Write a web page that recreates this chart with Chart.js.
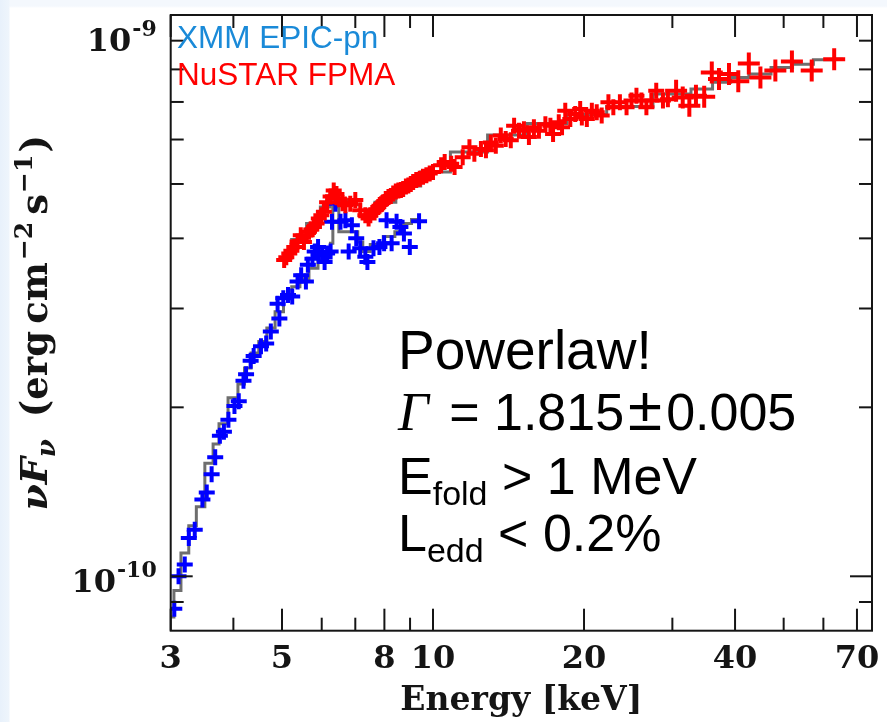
<!DOCTYPE html>
<html>
<head>
<meta charset="utf-8">
<script src="https://cdn.jsdelivr.net/npm/chart.js@4.4.1/dist/chart.umd.min.js"></script>
<style>
  html, body { margin: 0; padding: 0; background: #fff; }
  #wrap {
    width: 887px; height: 722px;
    background:
      linear-gradient(to right, #e8f1fb 0, #eef5fc 9px, rgba(255,255,255,0) 10px),
      linear-gradient(to bottom, #f4f8fd 0, #f4f8fd 6px, #fff 8px);
  }
</style>
</head>
<body>
<div id="wrap"><canvas id="spec" width="887" height="722"></canvas></div>
<script>
// energies in keV, flux (nu F_nu) in units of 1e-10 erg cm^-2 s^-1
const xmmEnergy = [3.05, 3.11, 3.20, 3.26, 3.35, 3.47, 3.54, 3.62, 3.68, 3.76, 3.83, 3.91, 4.02, 4.10, 4.19, 4.24, 4.33, 4.39, 4.54, 4.65, 4.75, 4.90, 4.94, 5.03, 5.14, 5.24, 5.37, 5.46, 5.58, 5.63, 5.75, 5.81, 5.90, 6.01, 6.08, 6.15, 6.25, 6.29, 6.39, 6.54, 6.69, 6.79, 6.89, 7.03, 7.16, 7.33, 7.40, 7.61, 7.82, 7.99, 8.08, 8.27, 8.46, 8.61, 8.75, 8.99, 9.38];
const xmmFlux = [0.875, 1.00, 1.05, 1.17, 1.21, 1.37, 1.41, 1.52, 1.63, 1.78, 1.81, 1.90, 2.01, 2.05, 2.23, 2.29, 2.42, 2.47, 2.57, 2.60, 2.73, 3.06, 2.88, 3.13, 3.17, 3.15, 3.35, 3.44, 3.35, 3.59, 3.68, 3.79, 3.86, 3.73, 3.63, 3.76, 3.79, 4.28, 4.61, 4.28, 4.31, 3.79, 4.22, 4.00, 3.84, 3.71, 3.63, 3.84, 3.86, 3.92, 4.31, 3.92, 4.28, 4.19, 4.08, 3.86, 4.29];

const nustarEnergy = [5.05, 5.10, 5.17, 5.22, 5.29, 5.37, 5.45, 5.53, 5.60, 5.66, 5.72, 5.79, 5.86, 5.92, 5.99, 6.06, 6.15, 6.25, 6.34, 6.42, 6.49, 6.60, 6.69, 6.84, 7.00, 7.16, 7.33, 7.44, 7.50, 7.61, 7.70, 7.78, 7.88, 7.96, 8.05, 8.15, 8.24, 8.33, 8.43, 8.53, 8.63, 8.72, 8.83, 8.93, 9.03, 9.13, 9.26, 9.41, 9.55, 9.70, 9.85, 10.0, 10.38, 10.55, 10.87, 11.04, 11.46, 11.82, 12.09, 12.46, 12.75, 13.04, 13.34, 13.65, 13.96, 14.29, 14.51, 14.84, 15.18, 15.53, 15.89, 16.26, 16.75, 17.14, 17.35, 17.81, 18.08, 18.35, 18.78, 19.21, 19.65, 19.80, 20.26, 20.73, 21.20, 21.69, 22.37, 22.88, 23.58, 24.31, 24.87, 25.44, 26.03, 26.63, 27.24, 27.86, 28.73, 29.39, 30.52, 31.46, 32.43, 33.43, 34.72, 35.95, 37.16, 38.90, 40.60, 42.61, 44.94, 48.13, 51.93, 56.87, 63.05];
const nustarFlux = [3.66, 3.70, 3.76, 3.80, 3.86, 3.95, 4.05, 3.94, 4.05, 4.11, 4.15, 4.19, 4.25, 4.34, 4.40, 4.46, 4.64, 4.75, 4.87, 4.80, 4.71, 4.62, 4.58, 4.61, 4.68, 4.49, 4.40, 4.34, 4.40, 4.46, 4.50, 4.55, 4.60, 4.64, 4.70, 4.74, 4.76, 4.81, 4.85, 4.87, 4.88, 4.90, 4.95, 4.97, 5.00, 5.04, 5.08, 5.11, 5.15, 5.18, 5.22, 5.25, 5.40, 5.47, 5.43, 5.36, 5.58, 5.81, 5.66, 5.77, 5.74, 5.93, 5.85, 6.10, 6.01, 5.98, 6.35, 6.22, 6.26, 6.06, 6.31, 6.22, 6.39, 6.35, 6.14, 6.44, 6.31, 6.75, 6.53, 6.66, 6.80, 6.57, 6.53, 6.75, 6.71, 6.62, 6.99, 6.85, 6.99, 6.85, 7.04, 7.18, 7.04, 6.85, 7.04, 7.33, 7.04, 7.08, 7.33, 7.13, 6.89, 7.18, 7.15, 7.90, 7.69, 7.85, 7.62, 8.20, 7.74, 7.96, 8.26, 7.96, 8.34];

// folded powerlaw model (step histogram)
const xmmModelEnergy = [3.00, 3.09, 3.20, 3.32, 3.43, 3.59, 3.70, 3.79, 4.02, 4.15, 4.27, 4.41, 4.58, 4.75, 4.94, 5.13, 5.33, 5.53, 5.79, 6.01, 6.20, 6.29, 6.34, 6.44, 6.54, 7.00, 7.16, 7.33, 7.67, 8.26, 8.53, 8.79, 9.34];
const xmmModelFlux = [0.846, 0.943, 1.10, 1.23, 1.33, 1.59, 1.72, 1.87, 2.08, 2.20, 2.35, 2.50, 2.62, 2.77, 2.96, 3.13, 3.28, 3.39, 3.54, 3.66, 3.79, 3.92, 4.55, 4.55, 4.11, 4.11, 3.94, 3.79, 3.90, 4.03, 4.11, 4.25, 4.32];
const nustarModelEnergy = [5.05, 5.41, 5.79, 6.14, 6.34, 6.52, 6.98, 7.37, 7.96, 8.93, 10.0, 11.73, 14.07, 16.88, 20.26, 24.31, 30.98, 34.47, 37.76, 40.71, 44.61, 49.91, 54.35, 60.41, 65.65];
const nustarModelFlux = [3.69, 3.98, 4.25, 4.55, 4.84, 4.68, 4.59, 4.39, 4.64, 4.96, 5.25, 5.70, 6.11, 6.41, 6.65, 6.87, 7.23, 7.38, 7.59, 7.74, 7.85, 8.06, 8.17, 8.32, 8.34];

// axes
const xMajorTicks = [3, 5, 8, 10, 20, 40, 70];
const xMinorTicks = [4, 6, 7, 9, 30, 50, 60];
const yMajorTicks = [1, 10];
const yMajorExp = ['-10', '-9'];
const yMinorTicks = [0.9, 2, 3, 4, 5, 6, 7, 8, 9];

const pts = (xs, ys) => xs.map((v, i) => ({x: v, y: ys[i]}));

const SERIF = '"DejaVu Serif"';
const SANS = '"Liberation Sans", Arial';

function drawRuns(ctx, x, y, parts) {
    let cx = x;
    parts.forEach(p => {
        ctx.font = p.f;
        ctx.fillText(p.t, cx, y + (p.dy || 0));
        cx += ctx.measureText(p.t).width + (p.gap || 0);
    });
    return cx - x;
}
function runsWidth(ctx, parts) {
    let w = 0;
    parts.forEach(p => { ctx.font = p.f; w += ctx.measureText(p.t).width + (p.gap || 0); });
    return w;
}

const framePlugin = {
    id: 'frame',
    afterDatasetsDraw(chart) {
        const {ctx, chartArea: a, scales: {x, y}} = chart;
        ctx.save();
        ctx.strokeStyle = '#151515';
        ctx.fillStyle = '#151515';
        ctx.lineWidth = 2;
        ctx.strokeRect(a.left, a.top, a.right - a.left, a.bottom - a.top);

        const seg = (x1, y1, x2, y2) => { ctx.beginPath(); ctx.moveTo(x1, y1); ctx.lineTo(x2, y2); ctx.stroke(); };
        xMajorTicks.forEach(v => { const p = x.getPixelForValue(v); seg(p, a.bottom, p, a.bottom - 22); seg(p, a.top, p, a.top + 22); });
        xMinorTicks.forEach(v => { const p = x.getPixelForValue(v); seg(p, a.bottom, p, a.bottom - 13); seg(p, a.top, p, a.top + 13); });
        yMajorTicks.forEach(v => { const p = y.getPixelForValue(v); seg(a.left, p, a.left + 22, p); seg(a.right, p, a.right - 22, p); });
        yMinorTicks.forEach(v => { const p = y.getPixelForValue(v); seg(a.left, p, a.left + 13, p); seg(a.right, p, a.right - 13, p); });

        // x tick labels
        ctx.textBaseline = 'alphabetic';
        ctx.textAlign = 'center';
        ctx.font = 'bold 32px ' + SERIF;
        xMajorTicks.forEach(v => ctx.fillText(String(v), x.getPixelForValue(v), a.bottom + 37));

        // y tick labels: 10^exp
        ctx.textAlign = 'left';
        yMajorTicks.forEach((v, i) => {
            const base = Math.max(y.getPixelForValue(v) + 16, a.top + 36);
            const parts = [{t: '10', f: 'bold 32px ' + SERIF, gap: 1}, {t: yMajorExp[i], f: 'bold 22px ' + SERIF, dy: -15}];
            drawRuns(ctx, a.left - 14 - runsWidth(ctx, parts), base, parts);
        });

        // axis titles
        ctx.textAlign = 'center';
        ctx.font = 'bold 33px ' + SERIF;
        ctx.fillText('Energy [keV]', (a.left + a.right) / 2, 710);

        ctx.save();
        ctx.textAlign = 'left';
        const yTitle = [
            {t: 'ν', f: 'bold italic 38px ' + SERIF},
            {t: 'F', f: 'bold italic 38px ' + SERIF},
            {t: 'ν', f: 'bold italic 26px ' + SERIF, dy: 8, gap: 22},
            {t: '(erg', f: 'bold 37px ' + SERIF, gap: 7},
            {t: 'cm', f: 'bold 37px ' + SERIF, gap: 2},
            {t: '−2', f: 'bold 25px ' + SERIF, dy: -15, gap: 7},
            {t: 's', f: 'bold 37px ' + SERIF, gap: 1},
            {t: '−1', f: 'bold 25px ' + SERIF, dy: -15, gap: 2},
            {t: ')', f: 'bold 37px ' + SERIF}
        ];
        const tw = runsWidth(ctx, yTitle);
        ctx.translate(47, (a.top + a.bottom) / 2 + tw / 2);
        ctx.rotate(-Math.PI / 2);
        drawRuns(ctx, 0, 0, yTitle);
        ctx.restore();

        // instrument labels
        ctx.textAlign = 'left';
        ctx.font = '31.5px ' + SANS;
        ctx.fillStyle = '#1a8ad8';
        ctx.fillText('XMM EPIC-pn', 177, 48);
        ctx.fillStyle = '#ff0000';
        ctx.fillText('NuSTAR FPMA', 177, 85);

        // fit annotation
        ctx.fillStyle = '#000';
        const big = '52px ' + SANS, sub = '34px ' + SANS;
        drawRuns(ctx, 398, 369, [{t: 'Powerlaw!', f: '55px ' + SANS}]);
        drawRuns(ctx, 398, 430, [
            {t: 'Γ', f: 'italic 54px "Liberation Serif"', gap: 6},
            {t: ' = 1.815', f: big, gap: 4},
            {t: '±', f: '62px ' + SANS, gap: 4},
            {t: '0.005', f: big}
        ]);
        drawRuns(ctx, 398, 494, [{t: 'E', f: big}, {t: 'fold', f: sub, dy: 11}, {t: ' > 1 MeV', f: big}]);
        drawRuns(ctx, 398, 551, [{t: 'L', f: big}, {t: 'edd', f: sub, dy: 11}, {t: ' < 0.2%', f: big}]);
        ctx.restore();
    }
};

new Chart(document.getElementById('spec'), {
    type: 'scatter',
    data: {
        datasets: [
            {
                label: 'XMM model',
                data: pts(xmmModelEnergy, xmmModelFlux),
                showLine: true,
                stepped: 'middle',
                borderColor: '#6e6e6e',
                borderWidth: 3,
                pointRadius: 0,
                order: 3
            },
            {
                label: 'NuSTAR model',
                data: pts(nustarModelEnergy, nustarModelFlux),
                showLine: true,
                stepped: 'middle',
                borderColor: '#6e6e6e',
                borderWidth: 3,
                pointRadius: 0,
                order: 3
            },
            {
                label: 'XMM EPIC-pn',
                data: pts(xmmEnergy, xmmFlux),
                pointStyle: 'cross',
                pointRadius: 8,
                borderColor: '#0000ff',
                borderWidth: 4,
                order: 2
            },
            {
                label: 'NuSTAR FPMA',
                data: pts(nustarEnergy, nustarFlux),
                pointStyle: 'cross',
                pointRadius: c => (c.raw && c.raw.x > 30 ? 11 : 8),
                borderColor: '#ff0000',
                borderWidth: 4,
                order: 1
            }
        ]
    },
    options: {
        responsive: false,
        animation: false,
        devicePixelRatio: 1,
        layout: {
            padding: {left: 170.7, right: 9.3, top: 12.3, bottom: 91.3}
        },
        scales: {
            x: {type: 'logarithmic', min: 3, max: 75, display: false},
            y: {type: 'logarithmic', min: 0.8, max: 10, display: false}
        },
        plugins: {
            legend: {display: false},
            tooltip: {enabled: false}
        }
    },
    plugins: [framePlugin]
});
</script>
</body>
</html>
